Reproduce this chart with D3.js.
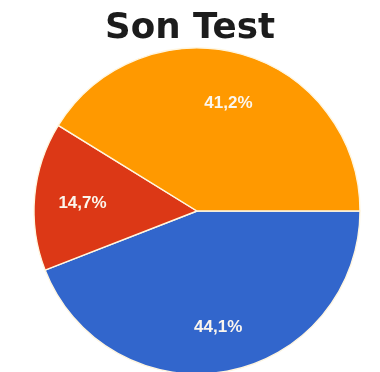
<!DOCTYPE html>
<html>
<head>
<meta charset="utf-8">
<script src="https://cdn.jsdelivr.net/npm/d3@7"></script>
<style>
  html, body { margin: 0; padding: 0; background: #ffffff; }
  svg { display: block; }
</style>
</head>
<body>
<div id="chart"></div>
<script>
// Survey answer shares for the final test
const titleText = "Son Test";
const categories = ["A", "B", "C"];
const values = [44.1, 14.7, 41.2];
const valueLabels = ["44,1%", "14,7%", "41,2%"];
const colors = ["#3366cc", "#dc3912", "#ff9900"];

const width = 380, height = 372;
const cx = 197, cy = 211, radius = 163, labelRadius = 115;

const svg = d3.select("#chart").append("svg")
  .attr("width", width)
  .attr("height", height);

const defs = svg.append("defs");
defs.append("filter").attr("id", "soft")
  .append("feGaussianBlur").attr("stdDeviation", 0.6);

const root = svg.append("g").attr("filter", "url(#soft)");

// Title
root.append("text")
  .attr("x", 190)
  .attr("y", 38)
  .attr("text-anchor", "middle")
  .attr("font-family", "'Comic Sans MS', 'DejaVu Sans', sans-serif")
  .attr("font-weight", "bold")
  .attr("font-size", 35)
  .attr("fill", "#1a1a1a")
  .attr("textLength", 170)
  .attr("lengthAdjust", "spacingAndGlyphs")
  .text(titleText);

// Pie starting at 3 o'clock, clockwise, in data order
const pie = d3.pie()
  .sort(null)
  .startAngle(Math.PI / 2)
  .endAngle(Math.PI / 2 + 2 * Math.PI)
  .value(d => d.value);

const data = categories.map((c, i) => ({ category: c, value: values[i], label: valueLabels[i], color: colors[i] }));
const arcs = pie(data);

const arc = d3.arc().innerRadius(0).outerRadius(radius);
const labelArc = d3.arc().innerRadius(labelRadius).outerRadius(labelRadius);

const g = root.append("g").attr("transform", `translate(${cx},${cy})`);

g.selectAll("path.slice")
  .data(arcs)
  .join("path")
  .attr("class", "slice")
  .attr("d", arc)
  .attr("fill", d => d.data.color)
  .attr("stroke", "#fff6e0")
  .attr("stroke-width", 1.4);

g.selectAll("text.value")
  .data(arcs)
  .join("text")
  .attr("class", "value")
  .attr("transform", d => {
    const [x, y] = labelArc.centroid(d);
    return `translate(${x},${y + 2})`;
  })
  .attr("text-anchor", "middle")
  .attr("dominant-baseline", "central")
  .attr("font-family", "'Liberation Sans', Arial, sans-serif")
  .attr("font-weight", "bold")
  .attr("font-size", 17)
  .attr("fill", "#fbf6ee")
  .text(d => d.data.label);
</script>
</body>
</html>
